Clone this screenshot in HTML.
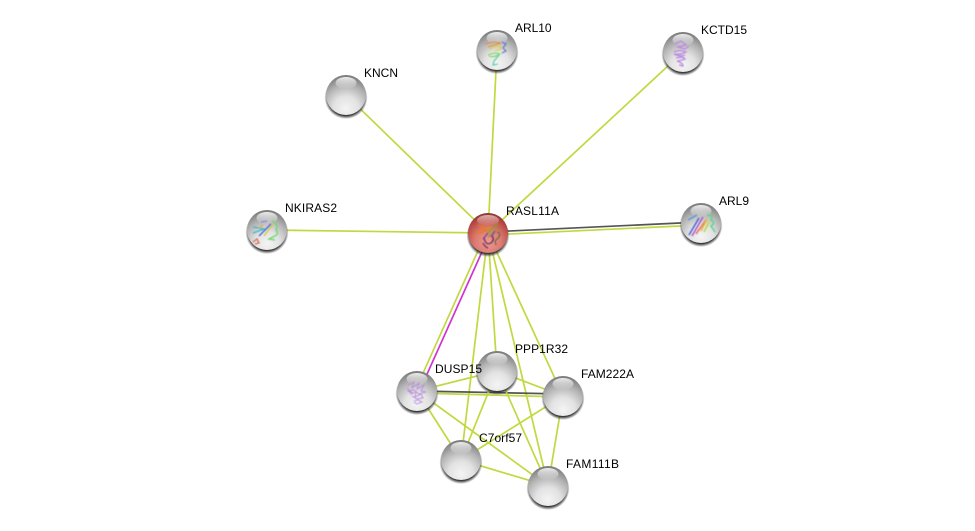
<!DOCTYPE html>
<html>
<head>
<meta charset="utf-8">
<style>
html,body{margin:0;padding:0;background:#fff;width:975px;height:531px;overflow:hidden}
svg{display:block}
text{font-family:"Liberation Sans",sans-serif;font-size:12px;fill:#000}
.e{stroke:#c2d840;stroke-width:1.7;fill:none}
.k{stroke:#555;stroke-width:1.7;fill:none}
.m{stroke:#d232d2;stroke-width:1.7;fill:none}
</style>
</head>
<body>
<svg width="975" height="531" viewBox="0 0 975 531" xmlns="http://www.w3.org/2000/svg">
<defs>
<radialGradient id="g" cx="50%" cy="84%" r="82%">
<stop offset="0" stop-color="#f4f4f4"/>
<stop offset=".38" stop-color="#e2e2e2"/>
<stop offset=".7" stop-color="#b4b4b4"/>
<stop offset="1" stop-color="#7c7c7c"/>
</radialGradient>
<radialGradient id="r" cx="50%" cy="72%" r="74%">
<stop offset="0" stop-color="#ec9c94"/>
<stop offset=".45" stop-color="#dc7a72"/>
<stop offset=".78" stop-color="#b84a44"/>
<stop offset="1" stop-color="#86302c"/>
</radialGradient>
<linearGradient id="h" x1="0" y1="0" x2="0" y2="1">
<stop offset="0" stop-color="#fff" stop-opacity=".85"/>
<stop offset="1" stop-color="#fff" stop-opacity="0"/>
</linearGradient>
<radialGradient id="s" cx="50%" cy="50%" r="50%">
<stop offset=".84" stop-color="#2a2a2a" stop-opacity=".95"/>
<stop offset="1" stop-color="#333" stop-opacity="0"/>
</radialGradient>
<filter id="b" x="-20%" y="-20%" width="140%" height="140%"><feGaussianBlur stdDeviation=".45"/></filter>
<g id="ball">
<circle cx="0" cy="2.5" r="21.5" fill="url(#s)"/>
<circle r="20" fill="url(#g)"/>
<ellipse cx="0" cy="-12" rx="10.5" ry="6" fill="url(#h)"/>
</g>
<g id="redball">
<circle cx="0" cy="2.5" r="21.5" fill="url(#s)"/>
<circle r="20" fill="url(#r)"/>
<ellipse cx="0" cy="-12.5" rx="11" ry="5.5" fill="url(#h)" opacity=".7"/>
</g>
</defs>

<!-- spokes -->
<line class="e" x1="488" y1="233" x2="346" y2="95"/>
<line class="e" x1="488" y1="233" x2="497" y2="50"/>
<line class="e" x1="488" y1="233" x2="683" y2="52"/>
<line class="e" x1="488" y1="233" x2="267" y2="230"/>
<line class="k" x1="488" y1="232" x2="701" y2="222"/>
<line class="e" x1="488" y1="235" x2="701" y2="225"/>
<line class="e" x1="486" y1="233" x2="415" y2="391"/>
<line class="m" x1="490" y1="234" x2="419" y2="392"/>
<line class="e" x1="488" y1="233" x2="461" y2="460"/>
<line class="e" x1="488" y1="233" x2="497" y2="371"/>
<line class="e" x1="488" y1="233" x2="548" y2="486"/>
<line class="e" x1="488" y1="233" x2="563" y2="396"/>

<!-- cluster -->
<line class="e" x1="417" y1="391" x2="497" y2="371"/>
<line class="k" x1="417" y1="391" x2="563" y2="394"/>
<line class="e" x1="417" y1="393" x2="563" y2="397"/>
<line class="e" x1="417" y1="391" x2="461" y2="460"/>
<line class="e" x1="417" y1="391" x2="548" y2="486"/>
<line class="e" x1="497" y1="371" x2="563" y2="396"/>
<line class="e" x1="497" y1="371" x2="461" y2="460"/>
<line class="e" x1="497" y1="371" x2="548" y2="486"/>
<line class="e" x1="563" y1="396" x2="461" y2="460"/>
<line class="e" x1="563" y1="396" x2="548" y2="486"/>
<line class="e" x1="461" y1="460" x2="548" y2="486"/>

<!-- nodes -->
<use href="#ball" x="346" y="95"/>

<use href="#ball" x="497" y="50"/>
<g fill="none" stroke-width="1.1" filter="url(#b)" transform="translate(497 50)">
<path d="M-12-6 L-4-8 L4-7 L-9-3" stroke="#e8883a"/>
<path d="M-8-1 L0-4 L6-2 L-2 1" stroke="#d8d23a"/>
<path d="M5-8 L9-6 L6-2 L9 1 L5 3" stroke="#5a72d8"/>
<path d="M-9 5 Q-3 2 3 4 Q-3 8-8 6" stroke="#7ad866"/>
<path d="M2 5 L-3 11 L-4 15 L1 14" stroke="#4ccfa0"/>
</g>

<use href="#ball" x="683" y="52"/>
<g fill="none" stroke="#b98ae0" stroke-width="1.3" filter="url(#b)" transform="translate(683 52)">
<path d="M-8-8 L-2-11 L3-7 L-5-5 L2-3 L6-6"/>
<path d="M-9 0 Q-3-3 3 0 Q-3 3-9 2 Q-3 5 2 3"/>
<path d="M-7 6 Q0 4 2 7 Q-4 9-6 9 Q0 11 0 14 L-4 13"/>
</g>

<use href="#ball" x="701" y="223"/>
<g fill="none" stroke-width="1.5" filter="url(#b)" transform="translate(701 223)">
<path d="M-13-3 L-4-8" stroke="#5a9ad8"/>
<path d="M-12 12 L-2-5" stroke="#4a62d8"/>
<path d="M-9 13 L2-6" stroke="#a858c8"/>
<path d="M-5 11 L5-3" stroke="#e06a5a"/>
<path d="M0 8 L6-4" stroke="#e8b83a"/>
<path d="M3 9 L8-1" stroke="#b8d83a"/>
<path d="M6-8 Q13-8 10-3 Q15 0 10 3 L14 9" stroke="#5ad88a"/>
</g>

<use href="#ball" x="267" y="230"/>
<g fill="none" stroke-width="1.3" filter="url(#b)" transform="translate(267 230)">
<path d="M-14-3 L-3-1 L-14 3" stroke="#3ab8c8"/>
<path d="M-8 6 L4-6" stroke="#4a62d8"/>
<path d="M-6-8 L0-9" stroke="#7a8ae0"/>
<path d="M-3 6 L6-6" stroke="#d8c83a"/>
<path d="M5-9 Q12-5 9 0 Q13 4 6 7 L2 9 L8 10" stroke="#6ad86a"/>
<path d="M-14 12 L-10 9 L-8 13 L-12 14" stroke="#d86a5a"/>
<path d="M-8-2 L-4-5" stroke="#e8a83a"/>
</g>

<use href="#redball" x="488" y="233"/>
<g fill="none" stroke-width="1.2" filter="url(#b)" transform="translate(488 233)">
<path d="M-10-8 L-4-6 L-8-3 L-2-3 L-6 0 L-11-1" stroke="#e8782a"/>
<path d="M-14 4 L-10 0 M-3-4 L2-7 L-1-2 L5-5" stroke="#d8862a"/>
<path d="M-2 2 L6-6 L10-9 M0 4 L9-4" stroke="#8a9a2a"/>
<path d="M-5 6 L0 0 M3 4 L7-2" stroke="#7a3a9a"/>
<path d="M-4 5 Q-2 13 3 10 Q7 6 4 3 M-5 10 Q-3 14 0 15" stroke="#6a2a5a"/>
<path d="M9-1 Q13 0 11 4 L7 8 L8 12" stroke="#6a6a3a"/>
</g>

<use href="#ball" x="417" y="391"/>
<g fill="none" stroke="#b98ae0" stroke-width=".9" filter="url(#b)" transform="translate(417 391)">
<path d="M-9-6 L-3-9 L-5-3 L2-8 L0-2 L7-6 L4 0 L9 1 L2 3 L-3-1 L-9 0 L-4 3 L-10-3"/>
<path d="M-7 3 L-1 1 L-2 6 L4 3 L6 7 L0 8 L-5 5"/>
<path d="M-3 10 L1 9 L5 11 L0 13 L-3 11"/>
</g>

<use href="#ball" x="497" y="371"/>
<use href="#ball" x="563" y="396"/>
<use href="#ball" x="461" y="460"/>
<use href="#ball" x="548" y="486"/>

<!-- labels -->
<text x="364" y="77" textLength="34">KNCN</text>
<text x="515" y="32" textLength="36.5">ARL10</text>
<text x="701" y="34" textLength="46">KCTD15</text>
<text x="719" y="205" textLength="30">ARL9</text>
<text x="285" y="212" textLength="52">NKIRAS2</text>
<text x="506" y="215" textLength="53">RASL11A</text>
<text x="515" y="353" textLength="53">PPP1R32</text>
<text x="435" y="373" textLength="47">DUSP15</text>
<text x="581" y="378" textLength="53">FAM222A</text>
<text x="479" y="442" textLength="43">C7orf57</text>
<text x="566" y="468" textLength="53">FAM111B</text>
</svg>
</body>
</html>
